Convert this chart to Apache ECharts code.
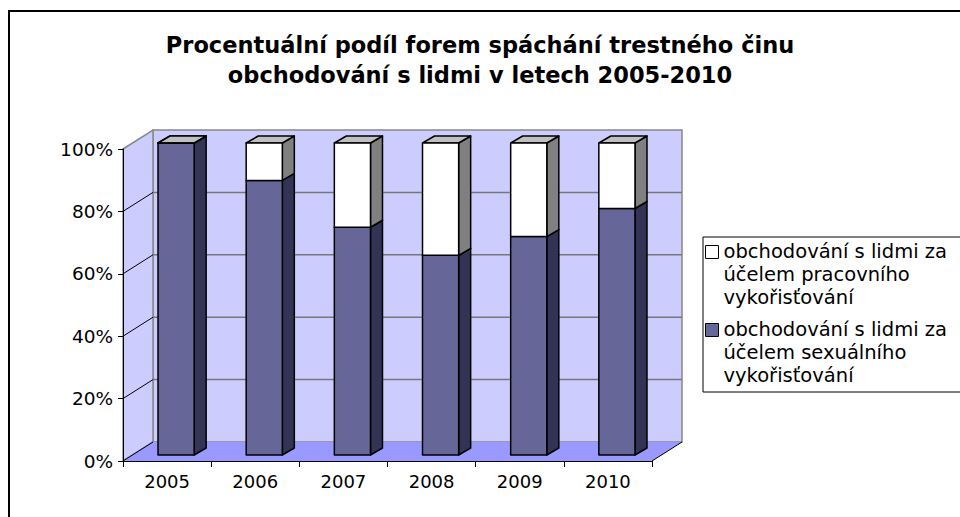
<!DOCTYPE html>
<html><head><meta charset="utf-8">
<script src="https://cdn.jsdelivr.net/npm/echarts@6/dist/echarts.min.js"></script>
<style>html,body{margin:0;padding:0;background:#fff}#c{width:960px;height:517px}</style>
</head><body><div id="c"></div>
<script>
// ---- data ----
const titleText = 'Procentuální podíl forem spáchání trestného činu\nobchodování s lidmi v letech 2005-2010';
const years = ['2005', '2006', '2007', '2008', '2009', '2010'];
const sexualShare = [100, 88, 73, 64, 70, 79];   // obchodování s lidmi za účelem sexuálního vykořisťování (%)
const labourShare = [0, 12, 27, 36, 30, 21];     // obchodování s lidmi za účelem pracovního vykořisťování (%)
const nameSexual = 'obchodování s lidmi za\núčelem sexuálního\nvykořisťování';
const nameLabour = 'obchodování s lidmi za\núčelem pracovního\nvykořisťování';
const yTicks = [0, 20, 40, 60, 80, 100];

// ---- pseudo-3D styling constants (pixels) ----
const DEPTH = [30, -19];
const FRONT = [9, -6];
const SIDE = [12, -7];
const BAR_FRAC = 0.41;
const FONT = 'DejaVu Sans';

function renderWalls(params, api) {
  const n = years.length;
  const band = api.size([1, 0])[0];
  const xL = api.coord([0, 0])[0] - band / 2;
  const xR = api.coord([n - 1, 0])[0] + band / 2;
  const y0 = api.coord([0, yTicks[0]])[1];
  const yMax = api.coord([0, yTicks[yTicks.length - 1]])[1];
  const dx = DEPTH[0], dy = DEPTH[1];
  const ch = [];
  ch.push({type: 'polygon', shape: {points: [[xL + dx, yMax + dy], [xR + dx, yMax + dy], [xR + dx, y0 + dy], [xL + dx, y0 + dy]]},
    style: {fill: '#CCCCFF', stroke: '#888888', lineWidth: 1.5}});
  ch.push({type: 'polygon', shape: {points: [[xL, yMax], [xL + dx, yMax + dy], [xL + dx, y0 + dy], [xL, y0]]},
    style: {fill: '#CCCCFF', stroke: '#888888', lineWidth: 1.5}});
  ch.push({type: 'polygon', shape: {points: [[xL, y0], [xL + dx, y0 + dy], [xR + dx, y0 + dy], [xR, y0]]},
    style: {fill: '#9999FF', stroke: null}});
  ch.push({type: 'line', shape: {x1: xR, y1: y0, x2: xR + dx, y2: y0 + dy}, style: {stroke: '#000', lineWidth: 1}});
  yTicks.forEach(function (v, k) {
    const y = api.coord([0, v])[1];
    if (k > 0 && k < yTicks.length - 1) {
      ch.push({type: 'line', shape: {x1: xL + dx, y1: y + dy, x2: xR + dx, y2: y + dy}, style: {stroke: '#777777', lineWidth: 1.5}});
    }
    if (k < yTicks.length - 1) {
      ch.push({type: 'line', shape: {x1: xL, y1: y, x2: xL + dx, y2: y + dy}, style: {stroke: '#000', lineWidth: 1}});
    }
  });
  return {type: 'group', children: ch};
}

function makeBarRenderer(frontColor, sideColor, topColor) {
  return function (params, api) {
    const i = api.value(0), base = api.value(1), top = api.value(2);
    const band = api.size([1, 0])[0];
    const w = band * BAR_FRAC;
    const cx = api.coord([i, 0])[0] + FRONT[0];
    const yb = api.coord([i, base])[1] + FRONT[1];
    const yt = api.coord([i, top])[1] + FRONT[1];
    const xl = cx - w / 2, xr = cx + w / 2;
    const sx = SIDE[0], sy = SIDE[1];
    const st = {stroke: '#000', lineWidth: 1.5, lineJoin: 'round'};
    return {type: 'group', children: [
      {type: 'polygon', shape: {points: [[xr, yt], [xr + sx, yt + sy], [xr + sx, yb + sy], [xr, yb]]}, style: Object.assign({fill: sideColor}, st)},
      {type: 'polygon', shape: {points: [[xl, yt], [xl + sx, yt + sy], [xr + sx, yt + sy], [xr, yt]]}, style: Object.assign({fill: topColor}, st)},
      {type: 'rect', shape: {x: xl, y: yt, width: w, height: yb - yt}, style: Object.assign({fill: frontColor}, st)}
    ]};
  };
}

const sexualData = years.map(function (_, i) { return [i, 0, sexualShare[i]]; });
const labourData = years.map(function (_, i) { return [i, sexualShare[i], sexualShare[i] + labourShare[i]]; });

const chart = echarts.init(document.getElementById('c'), null, {renderer: 'svg'});
chart.setOption({
  animation: false,
  backgroundColor: '#ffffff',
  title: {
    text: titleText, left: 'center', top: 30, padding: 0,
    textStyle: {fontFamily: FONT, fontWeight: 'bold', fontSize: 22.5, lineHeight: 30, color: '#000'}
  },
  legend: {
    orient: 'vertical', left: 703, top: 237, padding: [3, 80, 5, 2],
    data: [nameLabour, nameSexual],
    icon: 'path://M0,0h13v13h-13z M0,58',
    itemWidth: 13, itemHeight: 58, itemGap: 9,
    itemStyle: {borderColor: '#000', borderWidth: 1},
    borderColor: '#000', borderWidth: 1, backgroundColor: '#fff', borderRadius: 0,
    textStyle: {fontFamily: FONT, fontSize: 19.5, lineHeight: 23, color: '#000'}
  },
  grid: {left: 123, right: 308, top: 149, bottom: 56, containLabel: false},
  xAxis: {
    type: 'category', data: years, boundaryGap: true,
    axisLine: {lineStyle: {color: '#000', width: 1}},
    axisTick: {show: true, length: 6, lineStyle: {color: '#000'}},
    axisLabel: {fontFamily: FONT, fontSize: 18, color: '#000', margin: 11}
  },
  yAxis: {
    type: 'value', min: 0, max: 100, interval: 20,
    axisLine: {show: true, lineStyle: {color: '#000', width: 1}},
    axisTick: {show: true, length: 5, lineStyle: {color: '#000'}},
    splitLine: {show: false},
    axisLabel: {fontFamily: FONT, fontSize: 18.5, color: '#000', margin: 10, formatter: '{value}%'}
  },
  graphic: [{
    type: 'rect', silent: true, z: 100,
    shape: {x: 9, y: 11, width: 1000, height: 600},
    style: {fill: null, stroke: '#000', lineWidth: 2}
  }],
  series: [
    {type: 'custom', name: 'walls', z: -1, silent: true, renderItem: renderWalls, data: [[0, 0]], encode: {x: 0, y: 1}},
    {type: 'custom', name: nameSexual, z: 2, itemStyle: {color: '#666699'},
      renderItem: makeBarRenderer('#666699', '#333355', '#4D4D73'), data: sexualData, encode: {x: 0, y: [1, 2]}},
    {type: 'custom', name: nameLabour, z: 3, itemStyle: {color: '#FFFFFF'},
      renderItem: makeBarRenderer('#FFFFFF', '#808080', '#C0C0C0'), data: labourData, encode: {x: 0, y: [1, 2]}}
  ]
});
</script></body></html>
